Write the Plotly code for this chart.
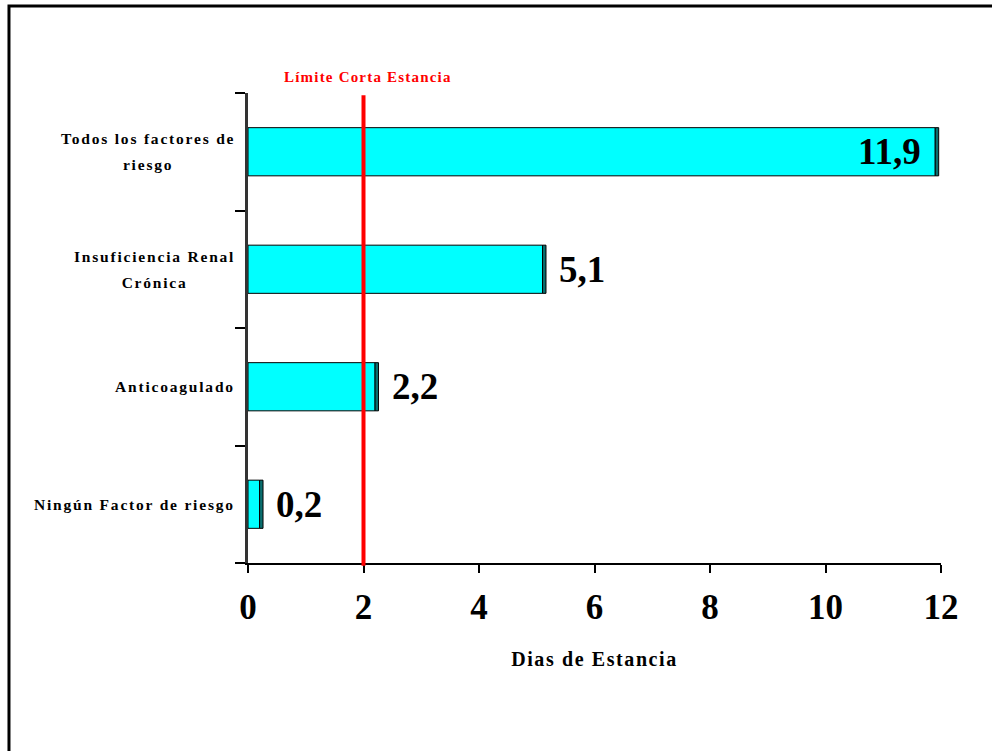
import plotly.graph_objects as go

# Data
categorias = [
    "Ningún Factor de riesgo",
    "Anticoagulado",
    "Insuficiencia Renal<br>Crónica",
    "Todos los factores de<br>riesgo",
]
dias = [0.2, 2.2, 5.1, 11.9]
limite_corta_estancia = 2
x_ticks = [0, 2, 4, 6, 8, 10, 12]

SERIF = "Liberation Serif, Times New Roman, serif"
BAR_WIDTH = 0.41
DEPTH = 0.06


def spaced(text, px, size=None):
    style = f"letter-spacing:{px}px"
    if size:
        style += f";font-size:{size}px"
    return f'<span style="{style}">{text}</span>'


def coma(v):
    return f"{v:.1f}".replace(".", ",")


fig = go.Figure()

# main bars
fig.add_trace(go.Bar(
    y=categorias, x=dias, orientation="h", width=BAR_WIDTH,
    marker=dict(color="#00FFFF", line=dict(color="#000000", width=1)),
    hoverinfo="x+y", showlegend=False,
))
# darker side face at the end of each bar
fig.add_trace(go.Bar(
    y=categorias, x=[DEPTH] * len(dias), base=dias, orientation="h",
    width=BAR_WIDTH,
    marker=dict(color="#0a6e6e", line=dict(color="#000000", width=1)),
    hoverinfo="skip", showlegend=False,
))

annotations = []
# category labels: centred multi-line blocks right-aligned to the axis;
# the larger annotation font only sets the line height
for c in categorias:
    lines = c.split("<br>")
    txt = "<br>".join(spaced(l, 1.8, 15.5) for l in lines)
    annotations.append(dict(
        x=0, xref="paper", y=c, yref="y", text=f"<b>{txt}</b>",
        xanchor="right", yanchor="middle", align="center", xshift=-11,
        showarrow=False, font=dict(family=SERIF, size=20, color="#000000"),
    ))

# value labels
for c, v in zip(categorias, dias):
    inside = v > 10
    annotations.append(dict(
        x=v + DEPTH if not inside else v, xref="x", y=c, yref="y",
        text=f"<b>{coma(v)}</b>",
        xanchor="right" if inside else "left", yanchor="middle",
        xshift=-12 if inside else 11, showarrow=False,
        font=dict(family=SERIF, size=37, color="#000000"),
    ))

# label for the short-stay limit
annotations.append(dict(
    x=limite_corta_estancia, xref="x", y=1, yref="paper",
    text="<b>" + spaced("Límite Corta Estancia", 1.2) + "</b>",
    xanchor="center", yanchor="bottom", yshift=6, xshift=4, showarrow=False,
    font=dict(family=SERIF, size=15, color="#FF0000"),
))

shapes = [
    # short-stay limit line
    dict(type="line", xref="x", yref="paper",
         x0=limite_corta_estancia, x1=limite_corta_estancia,
         y0=-0.006, y1=0.995, line=dict(color="#FF0000", width=4)),
    # outer frame
    dict(type="rect", xref="paper", yref="paper",
         x0=-0.3449, x1=1.25, y0=-0.55, y1=1.1851,
         line=dict(color="#000000", width=3), fillcolor="rgba(0,0,0,0)",
         layer="above"),
]

fig.update_layout(
    width=992, height=751,
    margin=dict(l=248, r=51, t=93, b=188, pad=0),
    paper_bgcolor="#FFFFFF", plot_bgcolor="#FFFFFF",
    barmode="overlay",
    font=dict(family=SERIF, color="#000000"),
    annotations=annotations,
    shapes=shapes,
    xaxis=dict(
        range=[0, 12], tickmode="array", tickvals=x_ticks,
        ticktext=[f"<b>{t}</b>" for t in x_ticks],
        tickfont=dict(family=SERIF, size=35, color="#000000"),
        ticks="outside", ticklen=8, tickwidth=1.5, tickcolor="#000000",
        showline=True, linecolor="#000000", linewidth=1.5,
        showgrid=False, zeroline=False,
        ticklabelstandoff=4,
        title=dict(text="<b>" + spaced("Dias de Estancia", 1.6) + "</b>",
                   font=dict(family=SERIF, size=20, color="#000000"),
                   standoff=26),
    ),
    yaxis=dict(
        type="category", categoryorder="array", categoryarray=categorias,
        range=[-0.5, 3.5], showticklabels=False,
        ticks="outside", ticklen=10, tickwidth=1.5, tickcolor="#000000",
        tickson="boundaries",
        showline=True, linecolor="#333333", linewidth=3,
        showgrid=False, zeroline=False,
    ),
)

fig.write_html("out.html")
